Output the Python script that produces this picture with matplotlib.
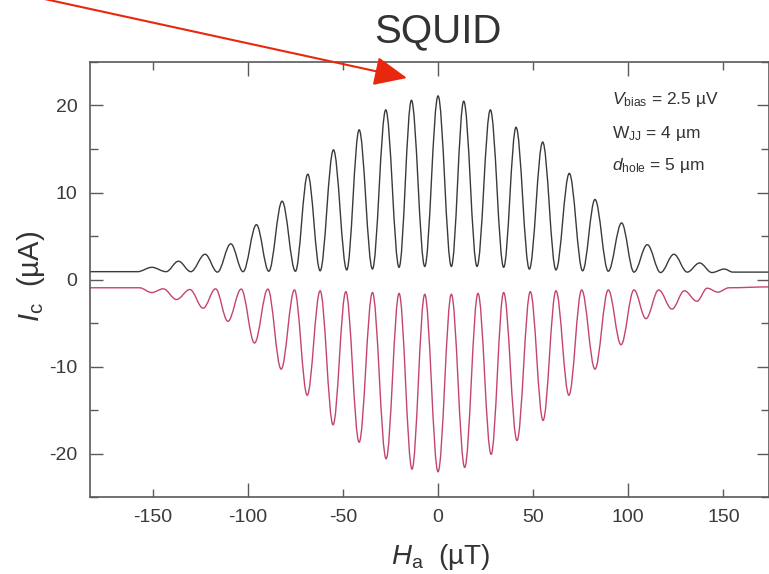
import matplotlib
matplotlib.use("Agg")
import matplotlib.pyplot as plt
from matplotlib.path import Path
from matplotlib.patches import PathPatch
from matplotlib.ticker import FixedLocator, FixedFormatter

plt.rcParams['font.family'] = ['Liberation Sans', 'DejaVu Sans']
plt.rcParams['mathtext.fontset'] = 'custom'
plt.rcParams['mathtext.rm'] = 'Liberation Sans'
plt.rcParams['mathtext.it'] = 'Liberation Sans:italic'
plt.rcParams['axes.unicode_minus'] = False

# ---- data: extrema of the two branches ----
# positive branch (black): H (uT) and Ic (uA) at successive extrema
black_H = [-183, -158, -150.5, -143, -136.5, -130, -122.5, -116, -109, -102.5,
           -95.5, -89, -82, -75, -68.5, -62, -55, -48, -41.5, -34.5,
           -27.5, -20.5, -14, -7, 0, 7, 13.5, 20.5, 27.5, 34.5,
           41, 48, 55, 62, 69, 76, 82.5, 89.5, 96.5, 103,
           110, 117, 124, 131, 137.5, 144, 150.5, 155, 174]
black_I = [0.9, 0.9, 1.4, 0.9, 2.1, 0.9, 2.9, 0.85, 4.1, 0.9,
           6.3, 0.95, 9.0, 0.95, 12.1, 1.0, 14.9, 1.1, 17.2, 1.2,
           19.5, 1.4, 20.6, 1.5, 21.1, 1.5, 20.5, 1.5, 19.5, 1.4,
           17.5, 1.2, 15.8, 1.1, 12.2, 1.0, 9.2, 0.95, 6.5, 0.85,
           4.0, 0.8, 2.9, 0.85, 1.9, 0.8, 1.2, 0.85, 0.85]

# negative branch (red)
red_H = [-183, -157, -150.5, -144.5, -137.5, -130.5, -123.5, -117, -110.5, -103.5,
         -96.5, -89.5, -82.5, -75.5, -68.8, -62, -55.2, -48.5, -41.5, -34.5,
         -27.3, -20.5, -13.7, -7, 0, 7, 14, 21, 27.9, 34.5,
         41.5, 48.5, 55.2, 62, 68.8, 75.5, 82.5, 89.5, 96.2, 103,
         109.3, 116, 123, 129.5, 136.1, 141.5, 147.1, 153, 174]
red_I = [-0.95, -0.95, -1.5, -1.07, -2.3, -1.15, -3.3, -1.07, -4.8, -1.1,
         -7.3, -1.1, -10.3, -1.2, -13.3, -1.3, -16.7, -1.4, -18.7, -1.5,
         -20.6, -1.6, -21.8, -1.7, -22.1, -1.7, -21.6, -1.6, -20.1, -1.5,
         -18.5, -1.4, -16.2, -1.3, -13.3, -1.2, -10.3, -1.2, -7.5, -1.2,
         -4.5, -1.2, -3.4, -1.3, -2.5, -1.0, -1.45, -0.95, -0.85]

x_major = [-100, 0, 100]
x_minor = [-150, -50, 50, 150]
y_major = [-20, -10, 0, 10, 20]
y_minor = [-25, -15, -5, 5, 15, 25]

info_lines = [r'$V_{\mathrm{bias}}$ = 2.5 µV',
              r'W$_{\mathrm{JJ}}$ = 4 µm',
              r'$d_{\mathrm{hole}}$ = 5 µm']


def smooth_path(xs, ys, k=0.36):
    verts = [(xs[0], ys[0])]
    codes = [Path.MOVETO]
    for i in range(len(xs) - 1):
        dx = xs[i + 1] - xs[i]
        verts += [(xs[i] + k * dx, ys[i]), (xs[i + 1] - k * dx, ys[i + 1]),
                  (xs[i + 1], ys[i + 1])]
        codes += [Path.CURVE4] * 3
    return Path(verts, codes)


W, H = 769, 574
fig = plt.figure(figsize=(W / 100, H / 100), dpi=100)
ax = fig.add_axes([90 / W, 1 - 497 / H, (W - 90) / W, (497 - 62) / H])

ax.add_patch(PathPatch(smooth_path(black_H, black_I), fill=False,
                       edgecolor='#3a3a3a', lw=1.0, transform=ax.transData))
ax.add_patch(PathPatch(smooth_path(red_H, red_I), fill=False,
                       edgecolor='#c4456a', lw=1.0, transform=ax.transData))

ax.set_xlim(-183, 174)
ax.set_ylim(-25, 25)

ax.xaxis.set_major_locator(FixedLocator(x_major))
ax.xaxis.set_minor_locator(FixedLocator(x_minor))
ax.xaxis.set_minor_formatter(FixedFormatter([str(v) for v in x_minor]))
ax.yaxis.set_major_locator(FixedLocator(y_major))
ax.yaxis.set_minor_locator(FixedLocator(y_minor))

spine_c = '#5a5a5a'
for s in ax.spines.values():
    s.set_color(spine_c)
    s.set_linewidth(1.2)
ax.tick_params(which='both', direction='in', top=True, right=True,
               color=spine_c, width=1.0, labelcolor='#3a3a3a', labelsize=14)
ax.tick_params(axis='x', which='major', length=10, pad=9)
ax.tick_params(axis='x', which='minor', length=6, pad=9)
ax.tick_params(axis='y', which='major', length=9, pad=9)
ax.tick_params(axis='y', which='minor', length=6)

# title and axis labels
fig.text(438 / W, 1 - 42 / H, 'SQUID', fontsize=29, color='#333333',
         ha='center', va='baseline')
fig.text(440 / W, 1 - 564 / H, r'$H_{\mathrm{a}}$  (µT)', fontsize=20,
         color='#333333', ha='center', va='baseline')
fig.text(31 / W, 1 - 276 / H, r'$I_{\mathrm{c}}$  (µA)', fontsize=21,
         color='#333333', ha='center', va='center', rotation=90)

# parameter box text
for txt, yb in zip(info_lines, [104, 138, 170]):
    fig.text(612 / W, 1 - yb / H, txt, fontsize=12.5, color='#333333',
             ha='left', va='baseline')

# red pointer arrow
ax.annotate('', xy=(407, H - 78), xycoords='figure pixels',
            xytext=(40, H + 2), textcoords='figure pixels',
            arrowprops=dict(arrowstyle='-|>,head_length=1.7,head_width=0.75',
                            color='#e8280e', lw=1.5, shrinkA=0, shrinkB=0,
                            mutation_scale=12),
            annotation_clip=False)

fig.savefig('out.png', dpi=100)
